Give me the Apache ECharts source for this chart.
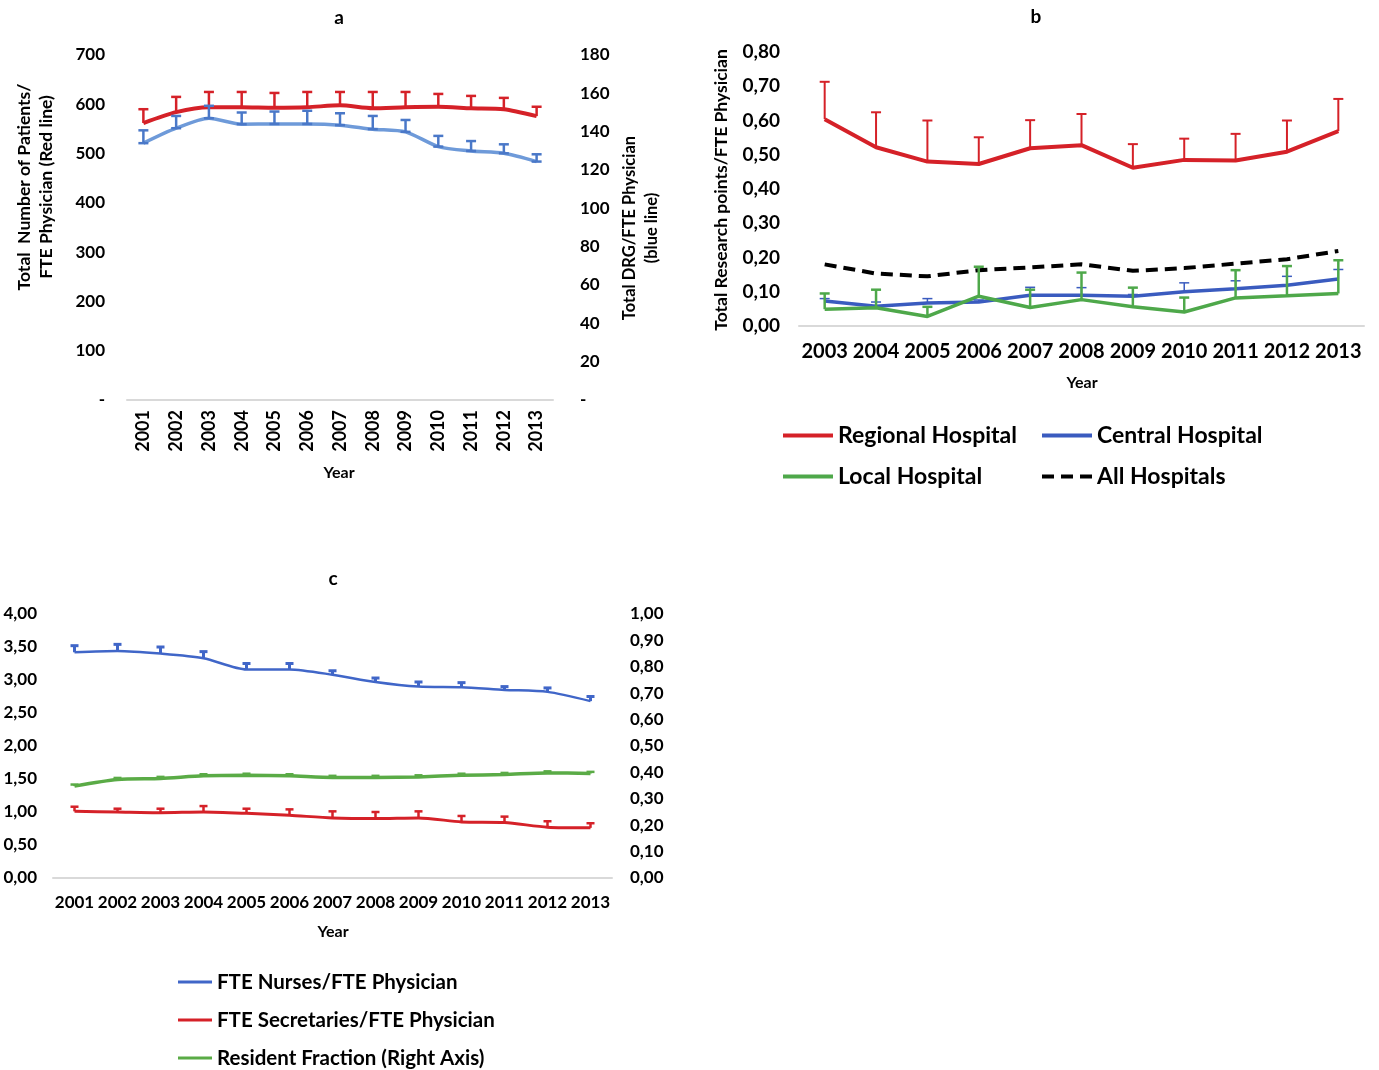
<!DOCTYPE html>
<html>
<head>
<meta charset="utf-8">
<script src="https://cdn.jsdelivr.net/npm/echarts@6/dist/echarts.min.js"></script>
<style>
html,body{margin:0;padding:0;background:#fff;}
#chart{width:1379px;height:1070px;}
</style>
</head>
<body>
<div id="chart"></div>
<script>
// ---------- Panel a ----------
const yearsA = ['2001','2002','2003','2004','2005','2006','2007','2008','2009','2010','2011','2012','2013'];
const patients = [562, 584, 594, 594, 593, 594, 598, 592, 594, 595, 592, 590, 576];
const patientsTop = [590, 615, 625, 625, 623, 625, 625, 625, 625, 621, 617, 613, 595];
const drg = [134, 141.8, 147, 143.9, 144, 144, 143.4, 141.3, 139.9, 132.2, 129.9, 128.7, 124.4];
const drgTop = [140.7, 148.2, 153.5, 150, 150.5, 150.9, 149.6, 148.2, 146.1, 137.8, 135.1, 133.4, 128.2];
const aLeftTicks = ['-', '100', '200', '300', '400', '500', '600', '700'];
const aRightTicks = ['-', '20', '40', '60', '80', '100', '120', '140', '160', '180'];

// ---------- Panel b ----------
const yearsB = ['2003','2004','2005','2006','2007','2008','2009','2010','2011','2012','2013'];
const regional = [0.604, 0.522, 0.480, 0.473, 0.519, 0.528, 0.462, 0.485, 0.483, 0.509, 0.569];
const regionalTop = [0.713, 0.624, 0.600, 0.551, 0.601, 0.619, 0.531, 0.547, 0.561, 0.600, 0.663];
const central = [0.073, 0.058, 0.067, 0.070, 0.090, 0.090, 0.087, 0.100, 0.109, 0.119, 0.137];
const centralTop = [0.080, 0.070, 0.080, 0.076, 0.113, 0.112, 0.092, 0.126, 0.132, 0.145, 0.165];
const local = [0.049, 0.053, 0.028, 0.087, 0.054, 0.077, 0.056, 0.041, 0.082, 0.088, 0.095];
const localTop = [0.095, 0.106, 0.056, 0.173, 0.106, 0.156, 0.112, 0.083, 0.163, 0.175, 0.192];
const allHosp = [0.180, 0.153, 0.145, 0.163, 0.171, 0.180, 0.161, 0.169, 0.182, 0.195, 0.219];
const bTicks = ['0,00','0,10','0,20','0,30','0,40','0,50','0,60','0,70','0,80'];

// ---------- Panel c ----------
const yearsC = ['2001','2002','2003','2004','2005','2006','2007','2008','2009','2010','2011','2012','2013'];
const nurses = [3.42, 3.44, 3.40, 3.33, 3.16, 3.16, 3.08, 2.97, 2.90, 2.89, 2.85, 2.82, 2.68];
const nursesTop = [3.52, 3.54, 3.50, 3.43, 3.25, 3.25, 3.14, 3.03, 2.97, 2.96, 2.90, 2.88, 2.75];
const secretaries = [1.01, 1.00, 0.99, 1.00, 0.98, 0.95, 0.91, 0.90, 0.91, 0.85, 0.84, 0.77, 0.76];
const secretariesTop = [1.08, 1.05, 1.05, 1.09, 1.05, 1.04, 1.01, 1.00, 1.01, 0.94, 0.93, 0.86, 0.83];
const resident = [0.348, 0.373, 0.377, 0.387, 0.389, 0.387, 0.381, 0.381, 0.383, 0.389, 0.392, 0.398, 0.396];
const residentTop = [0.354, 0.379, 0.383, 0.393, 0.395, 0.393, 0.387, 0.387, 0.389, 0.395, 0.398, 0.404, 0.402];
const cLeftTicks = ['0,00','0,50','1,00','1,50','2,00','2,50','3,00','3,50','4,00'];
const cRightTicks = ['0,00','0,10','0,20','0,30','0,40','0,50','0,60','0,70','0,80','0,90','1,00'];

const RED = '#d52128';
const FONT = 'Lato';
const W = 'bold';
const DASH_ICON = 'path://M0,0h12v4h-12z M19,0h12v4h-12z M38,0h12v4h-12z';

function errData(vals, tops) { return vals.map((v, i) => [i, v, tops[i]]); }
function errBar(color, lw, capW, bottomCap) {
  return function (params, api) {
    const x = api.value(0);
    const p0 = api.coord([x, api.value(1)]);
    const p1 = api.coord([x, api.value(2)]);
    const ch = [
      {type:'line', shape:{x1:p0[0], y1:p0[1], x2:p1[0], y2:p1[1]}, style:{stroke:color, lineWidth:lw}},
      {type:'line', shape:{x1:p1[0]-capW/2, y1:p1[1], x2:p1[0]+capW/2, y2:p1[1]}, style:{stroke:color, lineWidth:lw}}
    ];
    if (bottomCap) ch.push({type:'line', shape:{x1:p0[0]-capW/2, y1:p0[1], x2:p0[0]+capW/2, y2:p0[1]}, style:{stroke:color, lineWidth:lw}});
    return {type:'group', children: ch};
  };
}
function errSeries(name, xi, yi, vals, tops, color, lw, capW, bottomCap) {
  return {name, type:'custom', xAxisIndex:xi, yAxisIndex:yi, renderItem: errBar(color, lw, capW, bottomCap),
    data: errData(vals, tops), encode:{x:0, y:[1,2]}, z:3, silent:true};
}
function lineSeries(name, xi, yi, data, color, width, smooth, type) {
  return {name, type:'line', xAxisIndex:xi, yAxisIndex:yi, data, symbol:'none', showSymbol:false, smooth: smooth,
    lineStyle:{color, width, type: type || 'solid'}, itemStyle:{color}, z:2};
}
const lbl = (size) => ({color:'#000', fontFamily:FONT, fontWeight:W, fontSize:size});
function catAxis(grid, data, size, margin, rotate) {
  return {type:'category', gridIndex:grid, data, boundaryGap:true,
    axisLine:{show:true, lineStyle:{color:'#d9d9d9', width:2}}, axisTick:{show:false},
    axisLabel:Object.assign(lbl(size), {margin, rotate: rotate || 0, interval:0, hideOverlap:false}),
    splitLine:{show:false}};
}
function valAxis(grid, pos, max, interval, ticks, size, margin) {
  return {type:'value', gridIndex:grid, position:pos, min:0, max, interval,
    axisLine:{show:false}, axisTick:{show:false}, splitLine:{show:false},
    axisLabel:Object.assign(lbl(size), {margin, formatter: (v) => ticks[Math.round(v/interval)]})};
}
function gtext(text, x, y, size, rot, lh) {
  return {type:'text', x, y, rotation: rot || 0,
    style:{text, fill:'#000', font:W+' '+size+'px '+FONT, textAlign:'center', textVerticalAlign:'middle', lineHeight: lh || size*1.2}};
}

const chart = echarts.init(document.getElementById('chart'), null, {renderer:'canvas'});
chart.setOption({
  animation:false,
  backgroundColor:'#fff',
  grid:[
    {left:127, top:55, width:426, height:345},
    {left:799, top:52, width:565, height:274},
    {left:53, top:614, width:559, height:264}
  ],
  xAxis:[
    catAxis(0, yearsA, 18, 10, 90),
    catAxis(1, yearsB, 20, 16),
    catAxis(2, yearsC, 17, 16)
  ],
  yAxis:[
    valAxis(0, 'left', 700, 100, aLeftTicks, 17, 22),
    valAxis(0, 'right', 180, 20, aRightTicks, 17, 27),
    valAxis(1, 'left', 0.8, 0.1, bTicks, 19, 19),
    valAxis(2, 'left', 4, 0.5, cLeftTicks, 17, 16),
    valAxis(2, 'right', 1, 0.1, cRightTicks, 17, 18)
  ],
  legend:[
    {data:[{name:'Regional Hospital', icon:'rect'},{name:'Local Hospital', icon:'rect'}], orient:'vertical', left:783, top:423,
      padding:0, itemWidth:50, itemHeight:4, itemGap:16,
      textStyle:Object.assign(lbl(23), {lineHeight:25})},
    {data:[{name:'Central Hospital', icon:'rect'},{name:'All Hospitals', icon:DASH_ICON}], orient:'vertical', left:1042, top:423,
      padding:0, itemWidth:50, itemHeight:4, itemGap:16,
      textStyle:Object.assign(lbl(23), {lineHeight:25})},
    {data:[{name:'FTE Nurses/FTE Physician', icon:'rect'},{name:'FTE Secretaries/FTE Physician', icon:'rect'},{name:'Resident Fraction (Right Axis)', icon:'rect'}],
      orient:'vertical', left:178, top:971, padding:0, itemWidth:34, itemHeight:3, itemGap:16, height:100,
      textStyle:Object.assign(lbl(20.5), {lineHeight:22})}
  ],
  graphic:[
    gtext('a', 339, 18, 19),
    gtext('b', 1036, 17, 19),
    gtext('c', 333, 579, 19),
    gtext('Year', 339, 473, 16),
    gtext('Year', 1082, 383, 16),
    gtext('Year', 333, 932, 16),
    gtext('Total  Number of Patients/\nFTE Physician (Red line)', 35, 187, 17.5, Math.PI/2, 22),
    gtext('Total DRG/FTE Physician\n(blue line)', 641, 228, 16.5, Math.PI/2, 22),
    gtext('Total Research points/FTE Physician', 721, 190, 17.5, Math.PI/2)
  ],
  series:[
    lineSeries('Total patients', 0, 0, patients, RED, 4, 0.25),
    errSeries('err-patients', 0, 0, patients, patientsTop, RED, 2.5, 10, false),
    lineSeries('Total DRG', 0, 1, drg, '#6e9ad9', 3.5, 0.25),
    errSeries('err-drg', 0, 1, drg, drgTop, '#4a78c8', 2.5, 10, true),

    lineSeries('Regional Hospital', 1, 2, regional, RED, 4, false),
    errSeries('err-regional', 1, 2, regional, regionalTop, RED, 2, 10, false),
    lineSeries('All Hospitals', 1, 2, allHosp, '#000', 4, false, [12, 7]),
    lineSeries('Central Hospital', 1, 2, central, '#3a5bbf', 3.5, false),
    errSeries('err-central', 1, 2, central, centralTop, '#3a5bbf', 1.5, 10, false),
    lineSeries('Local Hospital', 1, 2, local, '#4ea84a', 3.5, false),
    errSeries('err-local', 1, 2, local, localTop, '#4ea84a', 2.5, 10, false),

    lineSeries('FTE Nurses/FTE Physician', 2, 3, nurses, '#4066c8', 2.5, 0.25),
    errSeries('err-nurses', 2, 3, nurses, nursesTop, '#4066c8', 3, 8, false),
    lineSeries('FTE Secretaries/FTE Physician', 2, 3, secretaries, RED, 3, 0.25),
    errSeries('err-secretaries', 2, 3, secretaries, secretariesTop, RED, 2.5, 8, false),
    lineSeries('Resident Fraction (Right Axis)', 2, 4, resident, '#5aab46', 3.5, 0.25),
    errSeries('err-resident', 2, 4, resident, residentTop, '#5aab46', 2.5, 8, false)
  ]
});
</script>
</body>
</html>
